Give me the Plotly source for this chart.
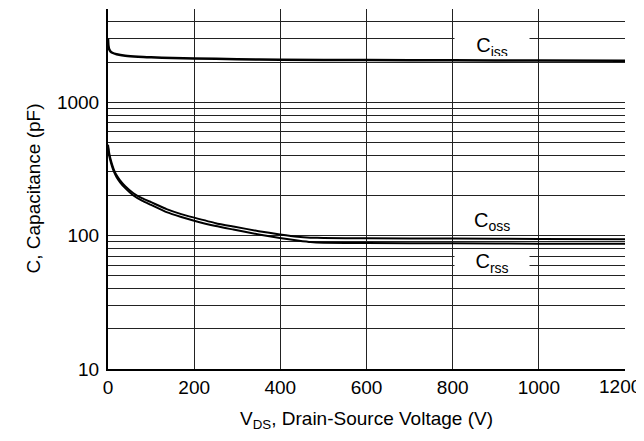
import numpy as np
import plotly.graph_objects as go

# Data
vds_iss = [0, 1, 3, 6, 10, 20, 40, 70, 100, 150, 200, 300, 400, 600, 800, 1000, 1200]
c_iss = [3000, 2650, 2480, 2400, 2350, 2290, 2230, 2190, 2170, 2150, 2130, 2100, 2085, 2070, 2060, 2055, 2050]

vds_oss = [0, 2, 5, 9, 14, 20, 28, 40, 59, 80, 100, 136, 170, 198, 250, 291, 350, 399, 440, 470, 500, 600, 800, 1000, 1200]
c_oss = [480, 430, 385, 345, 310, 283, 260, 235, 208, 190, 178, 158, 145, 137, 124, 117, 108, 102, 98, 96.5, 96, 95.5, 95, 94.5, 94]
c_rss = [460, 410, 370, 333, 300, 274, 251, 227, 200, 182, 170, 150, 138, 130, 118, 111, 102, 96, 92, 89.5, 88.5, 88, 87.5, 87, 87]

x_ticks = [0, 200, 400, 600, 800, 1000, 1200]
y_major = [10, 100, 1000]
y_minor = [20, 30, 40, 50, 60, 70, 80, 90,
           200, 300, 400, 500, 600, 700, 800, 900,
           2000, 3000, 4000, 5000]

font = "Liberation Sans, Arial, Helvetica, sans-serif"

fig = go.Figure()
fig.add_trace(go.Scatter(x=vds_iss, y=c_iss, mode="lines", line=dict(color="black", width=2.5, shape="spline", smoothing=0.5)))
fig.add_trace(go.Scatter(x=vds_oss, y=c_oss, mode="lines", line=dict(color="black", width=2, shape="spline", smoothing=0.4)))
fig.add_trace(go.Scatter(x=vds_oss, y=c_rss, mode="lines", line=dict(color="black", width=2, shape="spline", smoothing=0.4)))

ann_font = dict(family=font, size=20, color="black")
fig.add_annotation(x=891, y=np.log10(2600), text="C<sub>iss</sub>", showarrow=False,
                   bgcolor="white", width=72, height=18, font=ann_font)
fig.add_annotation(x=891, y=np.log10(128), text="C<sub>oss</sub>", showarrow=False, font=ann_font)
fig.add_annotation(x=891, y=np.log10(62), text="C<sub>rss</sub>", showarrow=False,
                   bgcolor="white", width=72, height=20, font=ann_font)

# y-axis title as rotated text left of the axis
fig.add_annotation(x=0, y=0.5, xref="paper", yref="paper", xshift=-88,
                   text="C, Capacitance (pF)", textangle=-90, showarrow=False,
                   font=dict(family=font, size=19, color="black"))

# last x tick label, right-aligned so it stays inside the picture
fig.add_annotation(x=x_ticks[-1], y=0, xref="x", yref="paper", xanchor="right", yanchor="top",
                   xshift=18, yshift=-5, text=str(x_ticks[-1]), showarrow=False,
                   font=dict(family=font, size=19, color="black"))

fig.update_layout(
    width=636, height=425,
    margin=dict(l=100, r=19, t=1, b=64),
    paper_bgcolor="white", plot_bgcolor="white",
    showlegend=False,
    font=dict(family=font, size=19, color="black"),
)
fig.update_xaxes(
    range=[0, 1200], tickvals=x_ticks,
    ticktext=[str(v) for v in x_ticks[:-1]] + [""],
    showgrid=True, gridcolor="#222", gridwidth=1,
    showline=True, linecolor="black", linewidth=2,
    zeroline=False, ticks="", automargin=False, ticklabeloverflow="allow",
    title=dict(text="V<sub>DS</sub>, Drain-Source Voltage (V)", font=dict(size=19)),
    tickfont=dict(size=19),
)
fig.update_yaxes(
    type="log", range=[1, np.log10(5000)],
    tickvals=y_major, ticktext=[str(v) for v in y_major],
    minor=dict(tickvals=y_minor, showgrid=True, gridcolor="#222", gridwidth=1, ticks=""),
    showgrid=True, gridcolor="#222", gridwidth=1,
    showline=True, linecolor="black", linewidth=2,
    zeroline=False, ticks="", automargin=False, ticklabeloverflow="allow",
    ticklabelstandoff=3,
    tickfont=dict(size=19),
)

fig.write_html("out.html")
